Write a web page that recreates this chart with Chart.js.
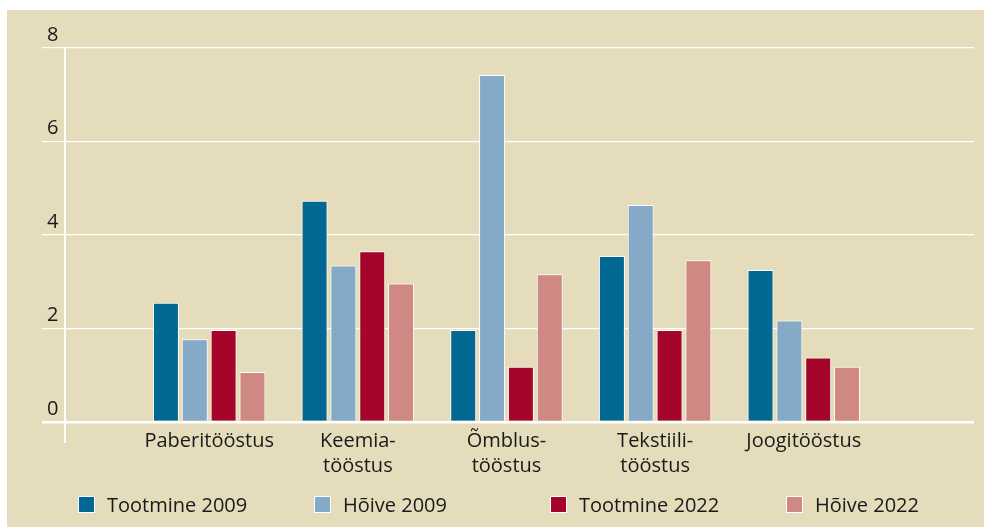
<!DOCTYPE html>
<html>
<head>
<meta charset="utf-8">
<script src="https://cdn.jsdelivr.net/npm/chart.js@4/dist/chart.umd.min.js"></script>
<style>
  body { margin: 0; background: #fff; }
  #wrap { position: absolute; left: 7px; top: 10px; width: 977px; height: 517px; background: #e4dcbb; }
  #chart { position: absolute; left: 0; top: 0; }
  #legend { position: absolute; left: 71px; top: 482px; display: flex; font: 20px "Open Sans"; color: #1a1a1a; }
  .item { width: 236px; display: flex; align-items: center; height: 24px; }
  .box { width: 15px; height: 15px; border: 1px solid #fff; margin-right: 12px; }
</style>
</head>
<body>
<div id="wrap">
  <canvas id="chart" width="977" height="517"></canvas>
  <div id="legend"></div>
</div>
<script>
const categories = ["Paberitööstus", ["Keemia-", "tööstus"], ["Õmblus-", "tööstus"], ["Tekstiili-", "tööstus"], "Joogitööstus"];
const tootmine2009 = [2.55, 4.73, 1.97, 3.55, 3.25];
const hoive2009 = [1.77, 3.35, 7.42, 4.64, 2.17];
const tootmine2022 = [1.97, 3.65, 1.18, 1.97, 1.38];
const hoive2022 = [1.07, 2.96, 3.16, 3.46, 1.18];
const yTicks = [0, 2, 4, 6, 8];

const series = [
  { label: "Tootmine 2009", data: tootmine2009, color: "#006892" },
  { label: "Hõive 2009", data: hoive2009, color: "#84aac8" },
  { label: "Tootmine 2022", data: tootmine2022, color: "#a5052b" },
  { label: "Hõive 2022", data: hoive2022, color: "#cf8883" },
];

const font = { family: "'Open Sans'", size: 20, lineHeight: 1.25 };
const textColor = "#1a1a1a";
const xMin = 0.03;
const xMax = 6.145;

// legend in fixed columns like the original
const legend = document.getElementById("legend");
series.forEach((s) => {
  const item = document.createElement("div");
  item.className = "item";
  const box = document.createElement("span");
  box.className = "box";
  box.style.background = s.color;
  const txt = document.createElement("span");
  txt.textContent = s.label;
  item.appendChild(box);
  item.appendChild(txt);
  legend.appendChild(item);
});

new Chart(document.getElementById("chart"), {
  type: "bar",
  data: {
    datasets: series.map((s) => ({
      label: s.label,
      data: s.data.map((v, i) => ({ x: i + 1, y: v })),
      backgroundColor: s.color,
      borderColor: "#ffffff",
      borderWidth: 1,
      categoryPercentage: 0.8,
      barPercentage: 0.9,
    })),
  },
  options: {
    responsive: false,
    animation: false,
    layout: { padding: { left: 40, top: 38, right: 10, bottom: 0 } },
    plugins: {
      legend: { display: false },
      tooltip: { enabled: false },
    },
    scales: {
      x: {
        type: "linear",
        offset: false,
        min: xMin,
        max: xMax,
        afterBuildTicks: (s) => {
          // first tick only extends the y axis line below zero
          s.ticks = [{ value: xMin }].concat(categories.map((c, i) => ({ value: i + 1 })));
        },
        afterFit: (s) => {
          s.height = 105;
        },
        grid: {
          offset: false,
          drawOnChartArea: false,
          tickLength: 21,
          lineWidth: 2,
          color: (ctx) => (ctx.index === 0 ? "#ffffff" : "rgba(0,0,0,0)"),
        },
        border: { display: false },
        ticks: {
          font: font,
          color: textColor,
          padding: -14,
          maxRotation: 0,
          autoSkip: false,
          callback: (v) => categories[v - 1] ?? "",
        },
      },
      y: {
        min: 0,
        max: 8,
        afterBuildTicks: (s) => {
          s.ticks = yTicks.map((v) => ({ value: v }));
        },
        afterFit: (s) => {
          s.width = 18;
        },
        grid: {
          color: "#ffffff",
          lineWidth: (ctx) => (ctx.tick && ctx.tick.value === 0 ? 2.5 : 1.2),
          tickLength: 23,
        },
        border: { color: "#ffffff", width: 2 },
        ticks: {
          font: font,
          color: textColor,
          crossAlign: "far",
          labelOffset: -13,
          padding: 0,
        },
      },
    },
  },
});
</script>
</body>
</html>
